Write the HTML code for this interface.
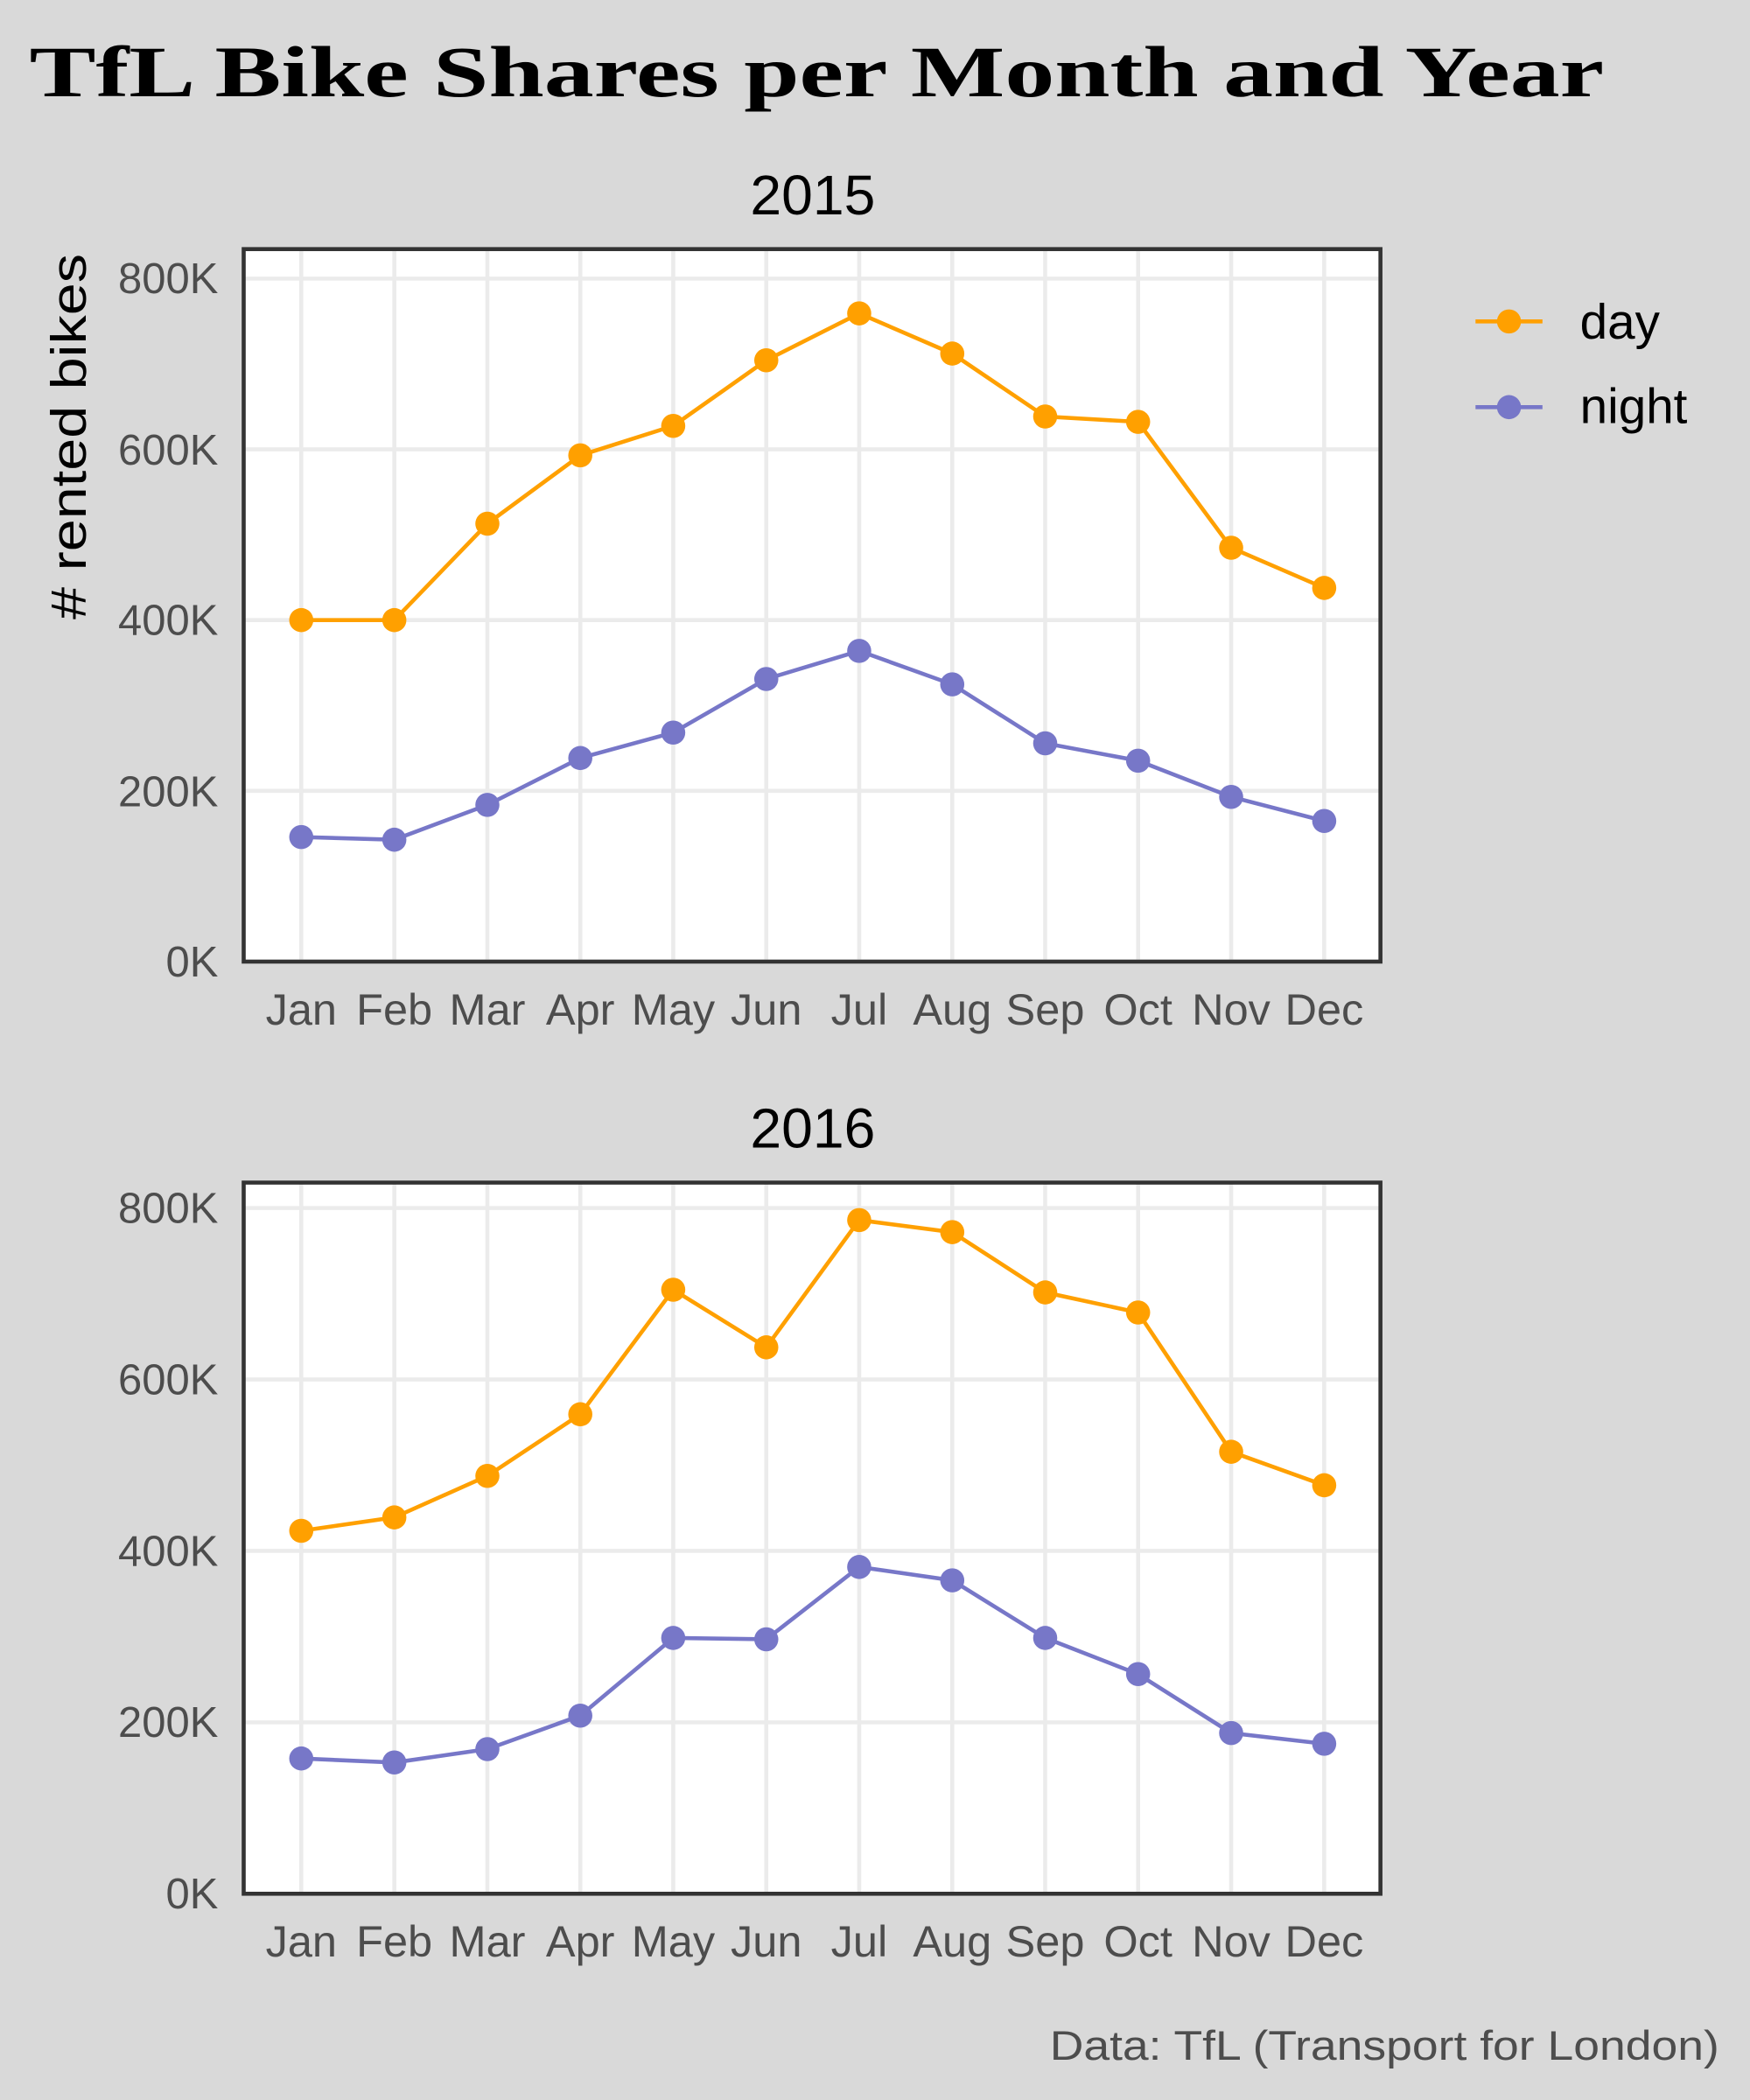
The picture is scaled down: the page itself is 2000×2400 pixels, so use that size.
<!DOCTYPE html>
<html><head><style>
html,body{margin:0;padding:0;background:#d9d9d9;}
svg{display:block;}
text{font-family:"Liberation Sans",sans-serif;}
</style></head><body>
<svg width="2000" height="2400" viewBox="0 0 1307 1568" preserveAspectRatio="none" xmlns="http://www.w3.org/2000/svg">
<rect width="1307" height="1568" fill="#d9d9d9"/>
<text x="22" y="72" font-weight="bold" font-size="54" fill="#000" style="font-family:'Liberation Serif',serif" textLength="1176" lengthAdjust="spacingAndGlyphs">TfL Bike Shares per Month and Year</text>
<text x="607" y="160" font-size="42" text-anchor="middle" fill="#000">2015</text>
<text x="607" y="857" font-size="42" text-anchor="middle" fill="#000">2016</text>
<text transform="translate(64,326) rotate(-90)" font-size="37" text-anchor="middle" fill="#000" textLength="273" lengthAdjust="spacingAndGlyphs"># rented bikes</text>
<g id="p1">
<rect x="182" y="186" width="849" height="532" fill="#fff"/>
<g stroke="#ebebeb" stroke-width="3">
<line x1="182" x2="1031" y1="718" y2="718"/><line x1="182" x2="1031" y1="590.5" y2="590.5"/><line x1="182" x2="1031" y1="463" y2="463"/><line x1="182" x2="1031" y1="335.5" y2="335.5"/><line x1="182" x2="1031" y1="208" y2="208"/>
<line x1="225" x2="225" y1="186" y2="718"/><line x1="294.5" x2="294.5" y1="186" y2="718"/><line x1="364" x2="364" y1="186" y2="718"/><line x1="433.4" x2="433.4" y1="186" y2="718"/><line x1="502.8" x2="502.8" y1="186" y2="718"/><line x1="572.3" x2="572.3" y1="186" y2="718"/><line x1="641.7" x2="641.7" y1="186" y2="718"/><line x1="711.2" x2="711.2" y1="186" y2="718"/><line x1="780.6" x2="780.6" y1="186" y2="718"/><line x1="850" x2="850" y1="186" y2="718"/><line x1="919.5" x2="919.5" y1="186" y2="718"/><line x1="989" x2="989" y1="186" y2="718"/>
</g>
<polyline fill="none" stroke="#ffa000" stroke-width="3" points="225,463 294.5,463 364,391 433.4,340 502.8,318 572.3,269 641.7,234 711.2,264 780.6,311 850,315 919.5,409 989,439"/>
<polyline fill="none" stroke="#7777c8" stroke-width="3" points="225,625 294.5,627 364,601 433.4,566 502.8,547 572.3,507 641.7,486 711.2,511 780.6,555 850,568 919.5,595 989,613"/>
<g fill="#ffa000"><circle cx="225" cy="463" r="9"/><circle cx="294.5" cy="463" r="9"/><circle cx="364" cy="391" r="9"/><circle cx="433.4" cy="340" r="9"/><circle cx="502.8" cy="318" r="9"/><circle cx="572.3" cy="269" r="9"/><circle cx="641.7" cy="234" r="9"/><circle cx="711.2" cy="264" r="9"/><circle cx="780.6" cy="311" r="9"/><circle cx="850" cy="315" r="9"/><circle cx="919.5" cy="409" r="9"/><circle cx="989" cy="439" r="9"/></g>
<g fill="#7777c8"><circle cx="225" cy="625" r="9"/><circle cx="294.5" cy="627" r="9"/><circle cx="364" cy="601" r="9"/><circle cx="433.4" cy="566" r="9"/><circle cx="502.8" cy="547" r="9"/><circle cx="572.3" cy="507" r="9"/><circle cx="641.7" cy="486" r="9"/><circle cx="711.2" cy="511" r="9"/><circle cx="780.6" cy="555" r="9"/><circle cx="850" cy="568" r="9"/><circle cx="919.5" cy="595" r="9"/><circle cx="989" cy="613" r="9"/></g>
<rect x="182" y="186" width="849" height="532" fill="none" stroke="#333" stroke-width="3"/>
<g font-size="32" fill="#4d4d4d" text-anchor="end"><text x="163" y="729">0K</text><text x="163" y="602">200K</text><text x="163" y="474">400K</text><text x="163" y="347">600K</text><text x="163" y="219">800K</text></g>
<g font-size="33" fill="#4d4d4d" text-anchor="middle"><text x="225" y="765">Jan</text><text x="294.5" y="765">Feb</text><text x="364" y="765">Mar</text><text x="433.4" y="765">Apr</text><text x="502.8" y="765">May</text><text x="572.3" y="765">Jun</text><text x="641.7" y="765">Jul</text><text x="711.2" y="765">Aug</text><text x="780.6" y="765">Sep</text><text x="850" y="765">Oct</text><text x="919.5" y="765">Nov</text><text x="989" y="765">Dec</text></g>
</g>
<g>
<rect x="182" y="883" width="849" height="531" fill="#fff"/>
<g stroke="#ebebeb" stroke-width="3">
<line x1="182" x2="1031" y1="1414" y2="1414"/><line x1="182" x2="1031" y1="1286" y2="1286"/><line x1="182" x2="1031" y1="1158" y2="1158"/><line x1="182" x2="1031" y1="1030" y2="1030"/><line x1="182" x2="1031" y1="902" y2="902"/>
<line x1="225" x2="225" y1="883" y2="1414"/><line x1="294.5" x2="294.5" y1="883" y2="1414"/><line x1="364" x2="364" y1="883" y2="1414"/><line x1="433.4" x2="433.4" y1="883" y2="1414"/><line x1="502.8" x2="502.8" y1="883" y2="1414"/><line x1="572.3" x2="572.3" y1="883" y2="1414"/><line x1="641.7" x2="641.7" y1="883" y2="1414"/><line x1="711.2" x2="711.2" y1="883" y2="1414"/><line x1="780.6" x2="780.6" y1="883" y2="1414"/><line x1="850" x2="850" y1="883" y2="1414"/><line x1="919.5" x2="919.5" y1="883" y2="1414"/><line x1="989" x2="989" y1="883" y2="1414"/>
</g>
<polyline fill="none" stroke="#ffa000" stroke-width="3" points="225,1143 294.5,1133 364,1102 433.4,1056 502.8,963 572.3,1006 641.7,911 711.2,920 780.6,965 850,980 919.5,1084 989,1109"/>
<polyline fill="none" stroke="#7777c8" stroke-width="3" points="225,1313 294.5,1316 364,1306 433.4,1281 502.8,1223 572.3,1224 641.7,1170 711.2,1180 780.6,1223 850,1250 919.5,1294 989,1302"/>
<g fill="#ffa000"><circle cx="225" cy="1143" r="9"/><circle cx="294.5" cy="1133" r="9"/><circle cx="364" cy="1102" r="9"/><circle cx="433.4" cy="1056" r="9"/><circle cx="502.8" cy="963" r="9"/><circle cx="572.3" cy="1006" r="9"/><circle cx="641.7" cy="911" r="9"/><circle cx="711.2" cy="920" r="9"/><circle cx="780.6" cy="965" r="9"/><circle cx="850" cy="980" r="9"/><circle cx="919.5" cy="1084" r="9"/><circle cx="989" cy="1109" r="9"/></g>
<g fill="#7777c8"><circle cx="225" cy="1313" r="9"/><circle cx="294.5" cy="1316" r="9"/><circle cx="364" cy="1306" r="9"/><circle cx="433.4" cy="1281" r="9"/><circle cx="502.8" cy="1223" r="9"/><circle cx="572.3" cy="1224" r="9"/><circle cx="641.7" cy="1170" r="9"/><circle cx="711.2" cy="1180" r="9"/><circle cx="780.6" cy="1223" r="9"/><circle cx="850" cy="1250" r="9"/><circle cx="919.5" cy="1294" r="9"/><circle cx="989" cy="1302" r="9"/></g>
<rect x="182" y="883" width="849" height="531" fill="none" stroke="#333" stroke-width="3"/>
<g font-size="32" fill="#4d4d4d" text-anchor="end"><text x="163" y="1425">0K</text><text x="163" y="1297">200K</text><text x="163" y="1169">400K</text><text x="163" y="1041">600K</text><text x="163" y="913">800K</text></g>
<g font-size="33" fill="#4d4d4d" text-anchor="middle"><text x="225" y="1461">Jan</text><text x="294.5" y="1461">Feb</text><text x="364" y="1461">Mar</text><text x="433.4" y="1461">Apr</text><text x="502.8" y="1461">May</text><text x="572.3" y="1461">Jun</text><text x="641.7" y="1461">Jul</text><text x="711.2" y="1461">Aug</text><text x="780.6" y="1461">Sep</text><text x="850" y="1461">Oct</text><text x="919.5" y="1461">Nov</text><text x="989" y="1461">Dec</text></g>
</g>
<line x1="1102" x2="1152" y1="240" y2="240" stroke="#ffa000" stroke-width="3"/><circle cx="1127" cy="240" r="9" fill="#ffa000"/>
<line x1="1102" x2="1152" y1="304" y2="304" stroke="#7777c8" stroke-width="3"/><circle cx="1127" cy="304" r="9" fill="#7777c8"/>
<text x="1180" y="253" font-size="37" fill="#000">day</text>
<text x="1180" y="316" font-size="37" fill="#000">night</text>
<text x="1284" y="1538" font-size="31" fill="#4d4d4d" text-anchor="end" textLength="500" lengthAdjust="spacingAndGlyphs">Data: TfL (Transport for London)</text>
</svg>
</body></html>
